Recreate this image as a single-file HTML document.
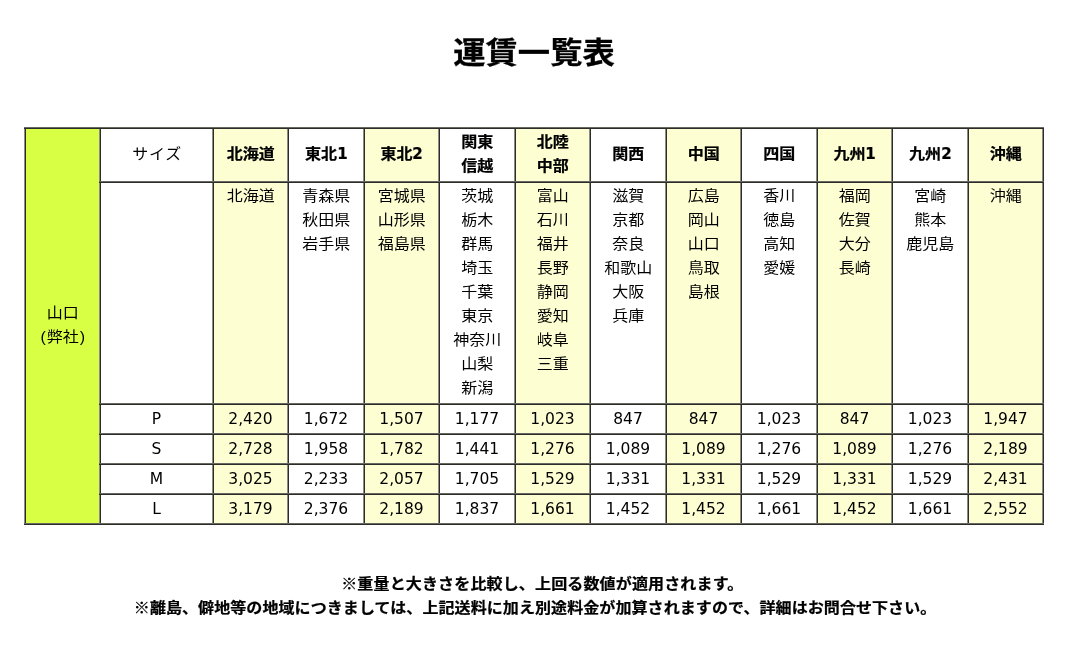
<!DOCTYPE html>
<html lang="ja">
<head>
<meta charset="utf-8">
<title>運賃一覧表</title>
<style>
html,body{margin:0;padding:0;background:#fff;}
body{width:1086px;height:667px;position:relative;overflow:hidden;color:#000;
 font-family:"DejaVu Sans","Liberation Sans","Noto Sans CJK JP",sans-serif;font-size:16px;line-height:24px;}
h1{position:absolute;left:24px;width:1020px;top:33px;margin:0;text-align:center;font-size:32px;line-height:40px;font-weight:bold;color:#000;-webkit-text-stroke:0.3px #000;
 font-family:"Liberation Sans","Noto Sans CJK JP",sans-serif;transform:scale(1.01,0.92);transform-origin:50% 50%;}
.c{position:absolute;box-sizing:border-box;text-align:center;display:flex;flex-direction:column;justify-content:center;align-items:center;white-space:nowrap;}
.y{background:#fdffd2;}
.g{background:#d9ff45;}
.h{font-weight:bold;-webkit-text-stroke:0.25px #000;}
.t{justify-content:flex-start;padding-top:2px;}
.j{font-family:"Liberation Sans","Noto Sans CJK JP",sans-serif;}
.j span{display:block;height:24px;transform:translate(0.3px,-0.7px) scaleY(0.93);transform-origin:50% 50%;}
.j i{font-style:normal;font-family:"DejaVu Sans",sans-serif;font-size:17.5px;display:inline-block;transform:scaleX(0.86);transform-origin:0 50%;margin-right:-1.8px;line-height:10px;}
.j u{text-decoration:none;margin:0 1px;}
.j em{font-style:normal;letter-spacing:0.75px;margin-left:0.75px;}
.n{font-size:15.5px;}
.l{position:absolute;background:#383836;}
.v{background:linear-gradient(to right,#8c8c84 0,#8c8c84 1px,#2c2c28 1px,#2c2c28 2px);}
.z{background:linear-gradient(to bottom,#686862 0,#686862 1px,#2c2c28 1px,#2c2c28 2px);}
.f{position:absolute;white-space:nowrap;font-weight:bold;-webkit-text-stroke:0.25px #000;margin:0;font-family:"Liberation Sans","Noto Sans CJK JP",sans-serif;transform:scaleY(0.93);transform-origin:0 50%;}
</style>
</head>
<body>
<h1>運賃一覧表</h1>
<div class="c g j" style="left:26px;top:129px;width:73px;height:394px"><span>山口</span><span><u>(</u>弊社<u>)</u></span></div>
<div class="c j" style="left:101px;top:129px;width:111px;height:52px"><span><em>サイズ</em></span></div>
<div class="c t j" style="left:101px;top:183px;width:111px;height:220px"></div>
<div class="c n" style="left:101px;top:405px;width:111px;height:28px"><span>P</span></div>
<div class="c n" style="left:101px;top:435px;width:111px;height:28px"><span>S</span></div>
<div class="c n" style="left:101px;top:465px;width:111px;height:28px"><span>M</span></div>
<div class="c n" style="left:101px;top:495px;width:111px;height:28px"><span>L</span></div>
<div class="c y h j" style="left:214px;top:129px;width:73px;height:52px"><span>北海道</span></div>
<div class="c y t j" style="left:214px;top:183px;width:73px;height:220px"><span>北海道</span></div>
<div class="c y n" style="left:214px;top:405px;width:73px;height:28px"><span>2,420</span></div>
<div class="c y n" style="left:214px;top:435px;width:73px;height:28px"><span>2,728</span></div>
<div class="c y n" style="left:214px;top:465px;width:73px;height:28px"><span>3,025</span></div>
<div class="c y n" style="left:214px;top:495px;width:73px;height:28px"><span>3,179</span></div>
<div class="c h j" style="left:289px;top:129px;width:74px;height:52px"><span>東北<i>1</i></span></div>
<div class="c t j" style="left:289px;top:183px;width:74px;height:220px"><span>青森県</span><span>秋田県</span><span>岩手県</span></div>
<div class="c n" style="left:289px;top:405px;width:74px;height:28px"><span>1,672</span></div>
<div class="c n" style="left:289px;top:435px;width:74px;height:28px"><span>1,958</span></div>
<div class="c n" style="left:289px;top:465px;width:74px;height:28px"><span>2,233</span></div>
<div class="c n" style="left:289px;top:495px;width:74px;height:28px"><span>2,376</span></div>
<div class="c y h j" style="left:365px;top:129px;width:73px;height:52px"><span>東北<i>2</i></span></div>
<div class="c y t j" style="left:365px;top:183px;width:73px;height:220px"><span>宮城県</span><span>山形県</span><span>福島県</span></div>
<div class="c y n" style="left:365px;top:405px;width:73px;height:28px"><span>1,507</span></div>
<div class="c y n" style="left:365px;top:435px;width:73px;height:28px"><span>1,782</span></div>
<div class="c y n" style="left:365px;top:465px;width:73px;height:28px"><span>2,057</span></div>
<div class="c y n" style="left:365px;top:495px;width:73px;height:28px"><span>2,189</span></div>
<div class="c h j" style="left:440px;top:129px;width:74px;height:52px"><span>関東</span><span>信越</span></div>
<div class="c t j" style="left:440px;top:183px;width:74px;height:220px"><span>茨城</span><span>栃木</span><span>群馬</span><span>埼玉</span><span>千葉</span><span>東京</span><span>神奈川</span><span>山梨</span><span>新潟</span></div>
<div class="c n" style="left:440px;top:405px;width:74px;height:28px"><span>1,177</span></div>
<div class="c n" style="left:440px;top:435px;width:74px;height:28px"><span>1,441</span></div>
<div class="c n" style="left:440px;top:465px;width:74px;height:28px"><span>1,705</span></div>
<div class="c n" style="left:440px;top:495px;width:74px;height:28px"><span>1,837</span></div>
<div class="c y h j" style="left:516px;top:129px;width:73px;height:52px"><span>北陸</span><span>中部</span></div>
<div class="c y t j" style="left:516px;top:183px;width:73px;height:220px"><span>富山</span><span>石川</span><span>福井</span><span>長野</span><span>静岡</span><span>愛知</span><span>岐阜</span><span>三重</span></div>
<div class="c y n" style="left:516px;top:405px;width:73px;height:28px"><span>1,023</span></div>
<div class="c y n" style="left:516px;top:435px;width:73px;height:28px"><span>1,276</span></div>
<div class="c y n" style="left:516px;top:465px;width:73px;height:28px"><span>1,529</span></div>
<div class="c y n" style="left:516px;top:495px;width:73px;height:28px"><span>1,661</span></div>
<div class="c h j" style="left:591px;top:129px;width:74px;height:52px"><span>関西</span></div>
<div class="c t j" style="left:591px;top:183px;width:74px;height:220px"><span>滋賀</span><span>京都</span><span>奈良</span><span>和歌山</span><span>大阪</span><span>兵庫</span></div>
<div class="c n" style="left:591px;top:405px;width:74px;height:28px"><span>847</span></div>
<div class="c n" style="left:591px;top:435px;width:74px;height:28px"><span>1,089</span></div>
<div class="c n" style="left:591px;top:465px;width:74px;height:28px"><span>1,331</span></div>
<div class="c n" style="left:591px;top:495px;width:74px;height:28px"><span>1,452</span></div>
<div class="c y h j" style="left:667px;top:129px;width:73px;height:52px"><span>中国</span></div>
<div class="c y t j" style="left:667px;top:183px;width:73px;height:220px"><span>広島</span><span>岡山</span><span>山口</span><span>鳥取</span><span>島根</span></div>
<div class="c y n" style="left:667px;top:405px;width:73px;height:28px"><span>847</span></div>
<div class="c y n" style="left:667px;top:435px;width:73px;height:28px"><span>1,089</span></div>
<div class="c y n" style="left:667px;top:465px;width:73px;height:28px"><span>1,331</span></div>
<div class="c y n" style="left:667px;top:495px;width:73px;height:28px"><span>1,452</span></div>
<div class="c h j" style="left:742px;top:129px;width:74px;height:52px"><span>四国</span></div>
<div class="c t j" style="left:742px;top:183px;width:74px;height:220px"><span>香川</span><span>徳島</span><span>高知</span><span>愛媛</span></div>
<div class="c n" style="left:742px;top:405px;width:74px;height:28px"><span>1,023</span></div>
<div class="c n" style="left:742px;top:435px;width:74px;height:28px"><span>1,276</span></div>
<div class="c n" style="left:742px;top:465px;width:74px;height:28px"><span>1,529</span></div>
<div class="c n" style="left:742px;top:495px;width:74px;height:28px"><span>1,661</span></div>
<div class="c y h j" style="left:818px;top:129px;width:73px;height:52px"><span>九州<i>1</i></span></div>
<div class="c y t j" style="left:818px;top:183px;width:73px;height:220px"><span>福岡</span><span>佐賀</span><span>大分</span><span>長崎</span></div>
<div class="c y n" style="left:818px;top:405px;width:73px;height:28px"><span>847</span></div>
<div class="c y n" style="left:818px;top:435px;width:73px;height:28px"><span>1,089</span></div>
<div class="c y n" style="left:818px;top:465px;width:73px;height:28px"><span>1,331</span></div>
<div class="c y n" style="left:818px;top:495px;width:73px;height:28px"><span>1,452</span></div>
<div class="c h j" style="left:893px;top:129px;width:74px;height:52px"><span>九州<i>2</i></span></div>
<div class="c t j" style="left:893px;top:183px;width:74px;height:220px"><span>宮崎</span><span>熊本</span><span>鹿児島</span></div>
<div class="c n" style="left:893px;top:405px;width:74px;height:28px"><span>1,023</span></div>
<div class="c n" style="left:893px;top:435px;width:74px;height:28px"><span>1,276</span></div>
<div class="c n" style="left:893px;top:465px;width:74px;height:28px"><span>1,529</span></div>
<div class="c n" style="left:893px;top:495px;width:74px;height:28px"><span>1,661</span></div>
<div class="c y h j" style="left:969px;top:129px;width:73px;height:52px"><span>沖縄</span></div>
<div class="c y t j" style="left:969px;top:183px;width:73px;height:220px"><span>沖縄</span></div>
<div class="c y n" style="left:969px;top:405px;width:73px;height:28px"><span>1,947</span></div>
<div class="c y n" style="left:969px;top:435px;width:73px;height:28px"><span>2,189</span></div>
<div class="c y n" style="left:969px;top:465px;width:73px;height:28px"><span>2,431</span></div>
<div class="c y n" style="left:969px;top:495px;width:73px;height:28px"><span>2,552</span></div>
<div class="l v" style="left:24px;top:127px;width:2px;height:398px"></div>
<div class="l v" style="left:99px;top:127px;width:2px;height:398px"></div>
<div class="l v" style="left:212px;top:127px;width:2px;height:398px"></div>
<div class="l v" style="left:287px;top:127px;width:2px;height:398px"></div>
<div class="l v" style="left:363px;top:127px;width:2px;height:398px"></div>
<div class="l v" style="left:438px;top:127px;width:2px;height:398px"></div>
<div class="l v" style="left:514px;top:127px;width:2px;height:398px"></div>
<div class="l v" style="left:589px;top:127px;width:2px;height:398px"></div>
<div class="l v" style="left:665px;top:127px;width:2px;height:398px"></div>
<div class="l v" style="left:740px;top:127px;width:2px;height:398px"></div>
<div class="l v" style="left:816px;top:127px;width:2px;height:398px"></div>
<div class="l v" style="left:891px;top:127px;width:2px;height:398px"></div>
<div class="l v" style="left:967px;top:127px;width:2px;height:398px"></div>
<div class="l v" style="left:1042px;top:127px;width:2px;height:398px"></div>
<div class="l z" style="left:24px;top:127px;width:1020px;height:2px"></div>
<div class="l z" style="left:99px;top:181px;width:945px;height:2px"></div>
<div class="l z" style="left:99px;top:403px;width:945px;height:2px"></div>
<div class="l z" style="left:99px;top:433px;width:945px;height:2px"></div>
<div class="l z" style="left:99px;top:463px;width:945px;height:2px"></div>
<div class="l z" style="left:99px;top:493px;width:945px;height:2px"></div>
<div class="l z" style="left:24px;top:523px;width:1020px;height:2px"></div>
<p class="f" style="left:341.2px;top:571.5px;letter-spacing:0.15px">※重量と大きさを比較し、上回る数値が適用されます。</p>
<p class="f" style="left:133.8px;top:596px;letter-spacing:0.08px">※離島、僻地等の地域につきましては、上記送料に加え別途料金が加算されますので、詳細はお問合せ下さい。</p>
</body>
</html>
